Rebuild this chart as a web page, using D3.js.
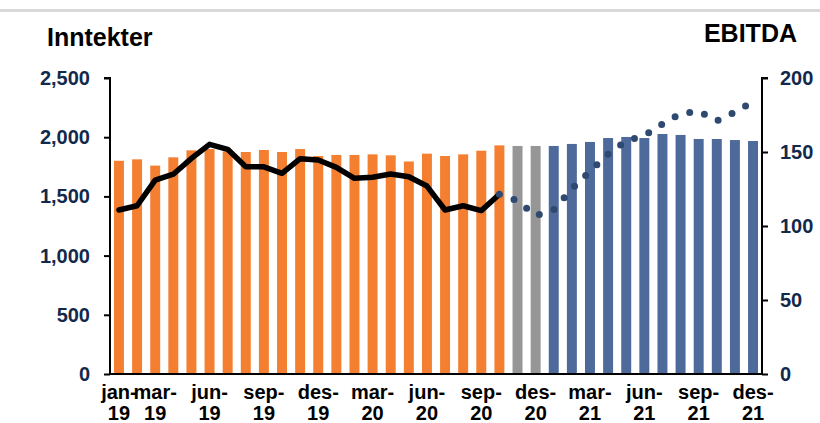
<!DOCTYPE html>
<html>
<head>
<meta charset="utf-8">
<script src="https://cdn.jsdelivr.net/npm/d3@7"></script>
<style>
  html, body { margin: 0; padding: 0; background: #fff; }
  svg { display: block; font-family: "Liberation Sans", Arial, sans-serif; font-weight: bold; }
</style>
</head>
<body>
<svg id="chart" width="820" height="423"></svg>
<script>
// ---- data ----
const months = [
  "jan-19","feb-19","mar-19","apr-19","mai-19","jun-19","jul-19","aug-19","sep-19","okt-19","nov-19","des-19",
  "jan-20","feb-20","mar-20","apr-20","mai-20","jun-20","jul-20","aug-20","sep-20","okt-20","nov-20","des-20",
  "jan-21","feb-21","mar-21","apr-21","mai-21","jun-21","jul-21","aug-21","sep-21","okt-21","nov-21","des-21"
];
// Inntekter (left axis)
const revenue = [
  1801, 1813, 1760, 1830, 1889, 1900, 1880, 1875, 1892, 1875, 1900, 1841,
  1850, 1850, 1855, 1847, 1795, 1861, 1841, 1855, 1886, 1931, 1926, 1926,
  1926, 1943, 1960, 1993, 2002, 1993, 2027, 2019, 1985, 1985, 1976, 1968
];
// bar type: actual / interim / forecast
const barType = [
  "a","a","a","a","a","a","a","a","a","a","a","a",
  "a","a","a","a","a","a","a","a","a","a","g","g",
  "f","f","f","f","f","f","f","f","f","f","f","f"
];
// EBITDA actual (right axis), jan-19 .. okt-20
const ebitdaActual = [
  110.8, 113.7, 131, 135, 145.7, 155.2, 151.8, 140, 140, 135.6, 145.5, 144.6,
  139.6, 132.2, 132.9, 135.1, 133.3, 127, 110.8, 113.7, 110.4, 121.4
];
// EBITDA forecast, okt-20 .. des-21
const ebitdaForecast = [
  121.4, 117, 107, 111, 125, 137, 148.5, 157.5, 161, 169, 176, 177.5, 171, 177, 184
];
const forecastStart = 21;
const tickLabels = ["jan-19","mar-19","jun-19","sep-19","des-19","mar-20","jun-20","sep-20","des-20","mar-21","jun-21","sep-21","des-21"];
const leftTicks = [0, 500, 1000, 1500, 2000, 2500];
const rightTicks = [0, 50, 100, 150, 200];

// ---- layout ----
const svg = d3.select("#chart");
const L = 110, R = 762, T = 78, B = 374;
const colors = { a: "#f47f31", g: "#969696", f: "#4d6a9a" };
const navy = "#13294b";

svg.append("rect").attr("x", 0).attr("y", 9).attr("width", 820).attr("height", 3).attr("fill", "#d9d9d9");

const x = d3.scaleBand().domain(months).range([L, R]).paddingInner(0.45).paddingOuter(0.22);
const yL = d3.scaleLinear().domain([0, 2500]).range([B, T]);
const yR = d3.scaleLinear().domain([0, 200]).range([B, T]);

// bars
svg.append("g").selectAll("rect").data(months).join("rect")
  .attr("x", d => x(d))
  .attr("width", x.bandwidth())
  .attr("y", (d, i) => yL(revenue[i]))
  .attr("height", (d, i) => B - yL(revenue[i]))
  .attr("fill", (d, i) => colors[barType[i]]);

const cx = d => x(d) + x.bandwidth() / 2;

// EBITDA actual line
const line = d3.line().x(d => cx(d.m)).y(d => yR(d.v)).curve(d3.curveLinear);
svg.append("path")
  .datum(ebitdaActual.map((v, i) => ({ m: months[i], v })))
  .attr("d", line)
  .attr("fill", "none").attr("stroke", "#000").attr("stroke-width", 5.5)
  .attr("stroke-linejoin", "round").attr("stroke-linecap", "round");

// EBITDA forecast dotted line
svg.append("path")
  .datum(ebitdaForecast.map((v, i) => ({ m: months[forecastStart + i], v })))
  .attr("d", line)
  .attr("fill", "none").attr("stroke", "#2f4a70").attr("stroke-width", 7)
  .attr("stroke-linecap", "round").attr("stroke-dasharray", "0 15.5");

// axes
const axL = svg.append("g").attr("transform", `translate(${L},0)`)
  .call(d3.axisLeft(yL).tickValues(leftTicks).tickFormat(d3.format(",")).tickSize(6).tickPadding(14));
const axR = svg.append("g").attr("transform", `translate(${R},0)`)
  .call(d3.axisRight(yR).tickValues(rightTicks).tickSize(6).tickPadding(12));
[axL, axR].forEach(ax => {
  ax.select(".domain").attr("stroke", "#000").attr("stroke-width", 2);
  ax.selectAll(".tick line").attr("stroke", "#000").attr("stroke-width", 2);
  ax.selectAll(".tick text").attr("fill", navy).style("font-size", "20px")
    .style("font-family", "'Liberation Sans', Arial, sans-serif").style("font-weight", "bold");
});
axL.select(".domain").attr("d", `M-6,${T}H0V${B}`);
axR.select(".domain").attr("d", `M6,${T}H0V${B}`);

// x axis baseline
svg.append("line").attr("x1", L).attr("x2", R).attr("y1", B).attr("y2", B)
  .attr("stroke", "#000").attr("stroke-width", 2);

// x labels
const xl = svg.append("g").selectAll("text").data(tickLabels).join("text")
  .attr("text-anchor", "middle").attr("fill", "#000").style("font-size", "20px")
  .attr("transform", d => `translate(${cx(d)},0)`);
xl.append("tspan").attr("x", 0).attr("y", 399).text(d => d.split("-")[0] + "-");
xl.append("tspan").attr("x", 0).attr("y", 420).text(d => d.split("-")[1]);

// titles
svg.append("text").attr("x", 47).attr("y", 46).attr("fill", "#000").style("font-size", "25px").text("Inntekter");
svg.append("text").attr("x", 797).attr("y", 42).attr("text-anchor", "end").attr("fill", "#000").style("font-size", "25px").text("EBITDA");
</script>
</body>
</html>
